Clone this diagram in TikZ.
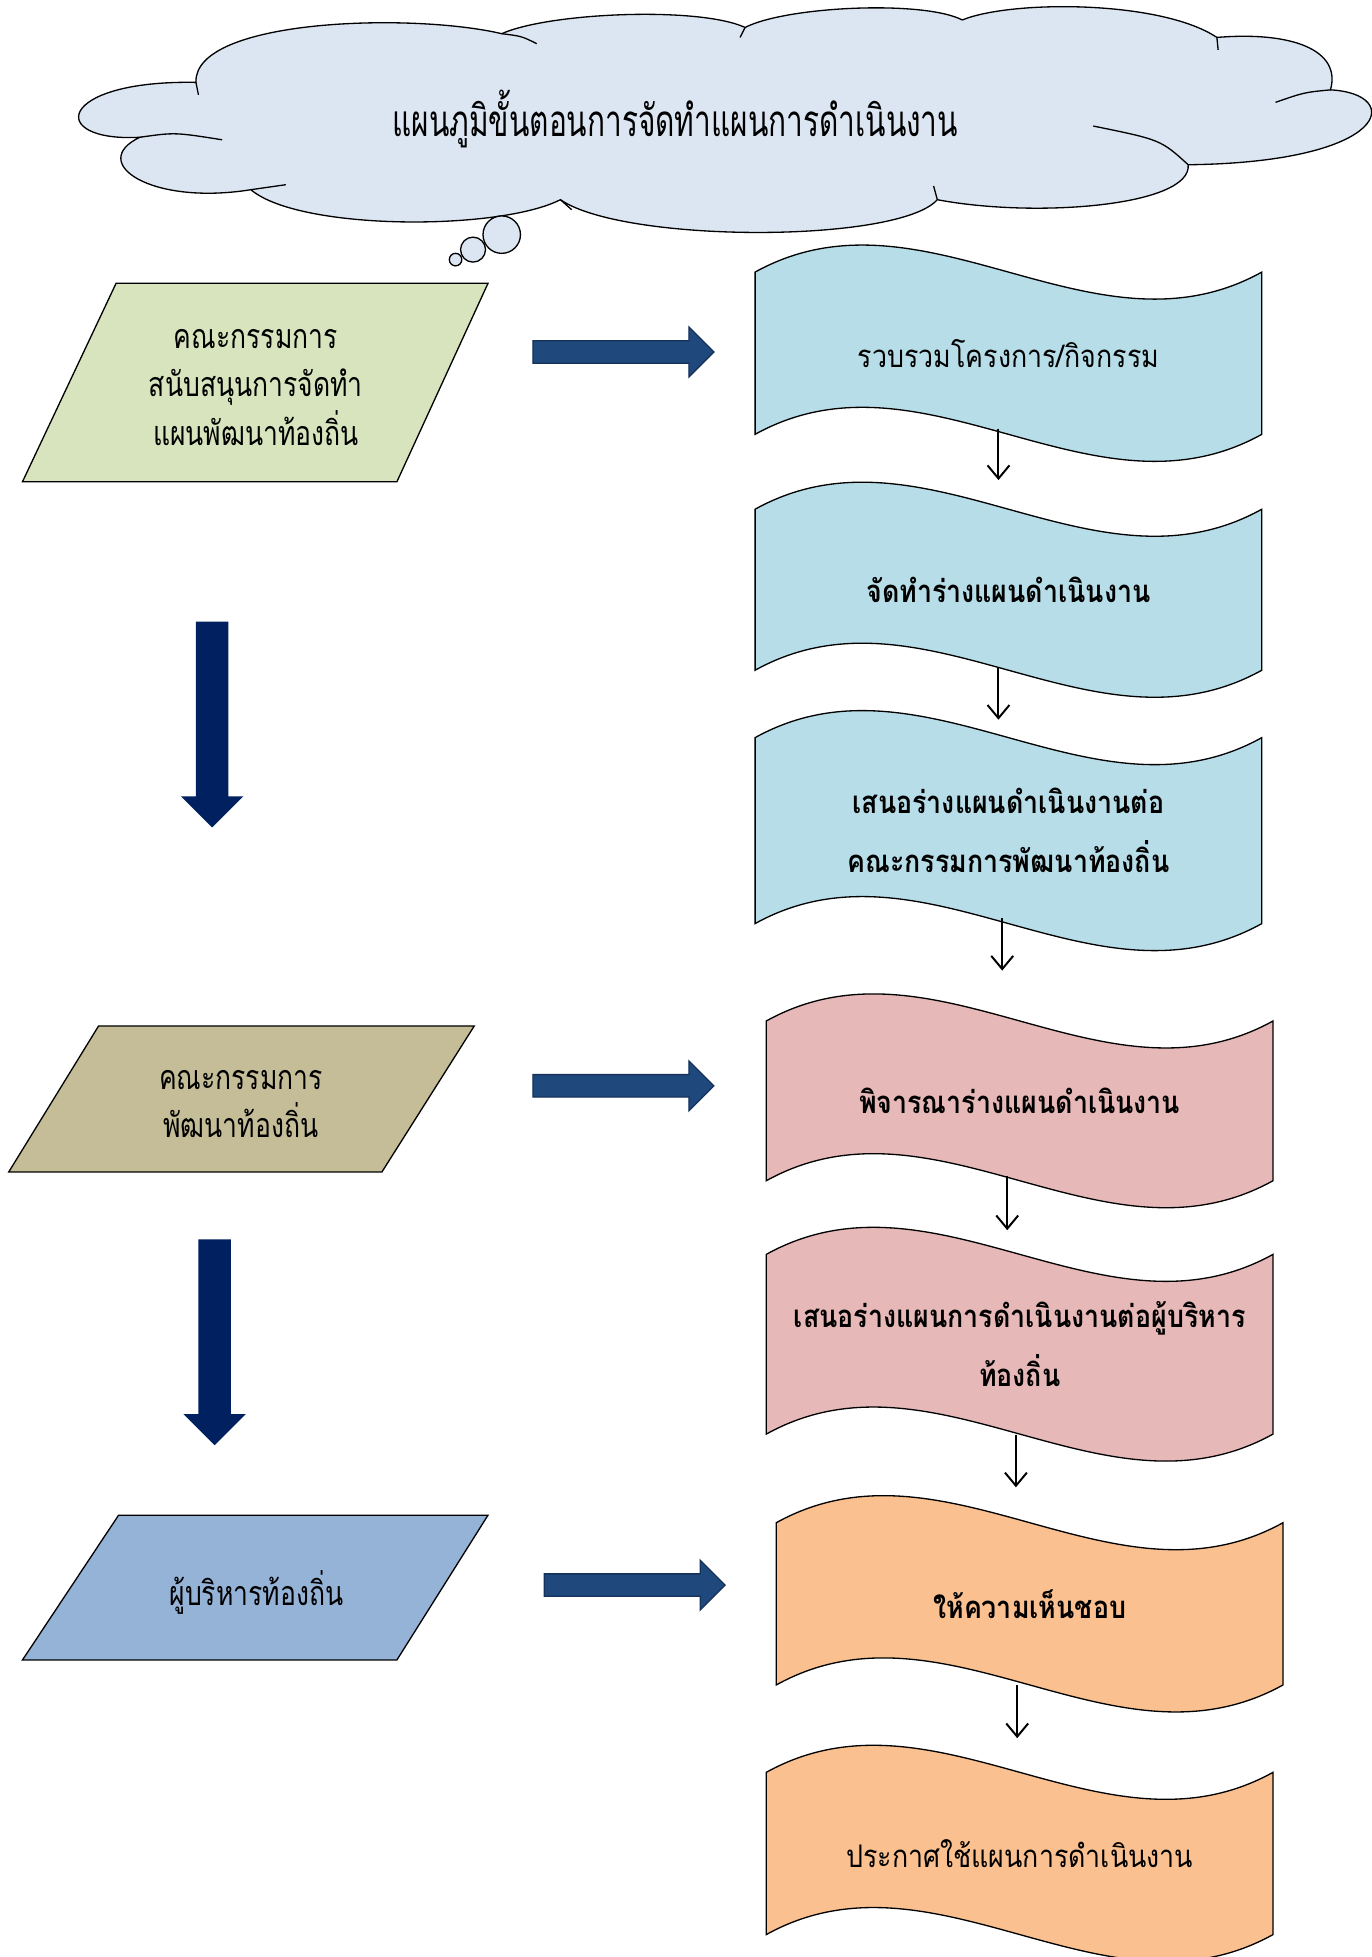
\documentclass[tikz,border=0pt]{standalone}
\usepackage{fontspec}
\newfontfamily\thaifont[Script=Thai,FakeStretch=0.86]{Loma}
\newfontfamily\thainarrow[Script=Thai,FakeStretch=0.78]{Loma}
\newfontfamily\thaititle[Script=Thai,FakeStretch=0.68]{Loma}
\usepackage{tikz}
\usetikzlibrary{math,calc,arrows.meta}
\definecolor{CloudFill}{RGB}{220,230,242}
\definecolor{SupportGreen}{RGB}{215,228,189}
\definecolor{CommitteeTan}{RGB}{196,189,151}
\definecolor{ExecBlue}{RGB}{149,179,215}
\definecolor{WaveBlue}{RGB}{183,221,232}
\definecolor{WavePink}{RGB}{230,185,184}
\definecolor{WaveOrange}{RGB}{250,192,144}
\definecolor{ArrowBlue}{RGB}{31,73,125}
\definecolor{ArrowEdge}{RGB}{22,50,90}
\definecolor{ArrowNavy}{RGB}{0,32,96}
\tikzset{%
  page units/.style={x={(0.02cm,0cm)},y={(0cm,-0.02cm)}},
  shape line/.style={draw=black, line width=0.6pt},
  title text/.style={font=\thaititle\fontsize{20}{24}\selectfont, inner sep=0pt},
  wave text/.style={align=center, inner sep=0pt},
  para text/.style={align=center, inner sep=0pt, font=\thainarrow\fontsize{15.5}{22}\selectfont},
  step arrow/.style={-{Straight Barb[length=6pt,width=10pt]}, line width=0.9pt},
  block arrow/.style={fill=ArrowBlue, draw=ArrowEdge, line width=0.6pt}
}

\begin{document}
\begin{tikzpicture}[page units]
    \useasboundingbox (0,0) rectangle (1099,1568);
    \tikzmath{
      \w=406;  % wave width
      \k=75;   % wave control offset
      \arrlen=145;
    }
    % title cloud
    \draw[shape line, fill=CloudFill]
      (112,110) .. controls (37,114) and (45,64) .. (157,66)
      .. controls (155,15) and (330,10) .. (402,27)
      .. controls (440,10) and (560,5) .. (597,22)
      .. controls (630,5) and (740,0) .. (771,16)
      .. controls (810,0) and (930,0) .. (975,30)
      .. controls (1035,25) and (1075,40) .. (1066,72)
      .. controls (1125,75) and (1115,130) .. (952,132)
      .. controls (955,165) and (830,175) .. (751,160)
      .. controls (720,195) and (500,195) .. (449,160)
      .. controls (400,185) and (240,185) .. (201,152)
      .. controls (120,165) and (70,130) .. (112,110) -- cycle;
    \draw[shape line] (112,110) .. controls (140,106) .. (178,112);
    \draw[shape line] (157,66) -- (159,76);
    \draw[shape line] (402,27) .. controls (418,29) .. (430,35);
    \draw[shape line] (597,22) -- (593,30);
    \draw[shape line] (975,30) -- (976,40);
    \draw[shape line] (1066,72) .. controls (1045,74) .. (1022,82);
    \draw[shape line] (952,132) .. controls (930,112) .. (876,101);
    \draw[shape line] (751,160) -- (748,149);
    \draw[shape line] (449,160) -- (458,168);
    \draw[shape line] (201,152) -- (229,148);
    \foreach \cx/\cy/\r in {402/188/15, 379/200/10, 365/208/5} {
      \draw[shape line, fill=CloudFill] (\cx,\cy) circle[radius=\r];
    }
    \node[title text] (title) at (541,95) {แผนภูมิขั้นตอนการจัดทำแผนการดำเนินงาน};

    % parallelograms on the left
    \foreach \tl/\tr/\bl/\br/\yt/\yb/\col/\nm/\txt in {
        93/391/18/318/227/386/SupportGreen/support/{คณะกรรมการ\\สนับสนุนการจัดทำ\\แผนพัฒนาท้องถิ่น},
        79/380/7/306/822/939/CommitteeTan/devcom/{คณะกรรมการ\\พัฒนาท้องถิ่น},
        95/391/18/318/1214/1330/ExecBlue/exec/{ผู้บริหารท้องถิ่น}} {
      \draw[shape line, fill=\col] (\tl,\yt) -- (\tr,\yt) -- (\br,\yb) -- (\bl,\yb) -- cycle;
      \node[para text] (\nm) at ({(\tl+\tr+\bl+\br)/4},{(\yt+\yb)/2+4}) {\txt};
    }

    % waves on the right
    \foreach \x/\yt/\yb/\col/\nm/\wt/\txt in {
        605/218/348/WaveBlue/collect/\mdseries/{รวบรวมโครงการ/กิจกรรม},
        605/408/537/WaveBlue/draft/\bfseries/{จัดทำร่างแผนดำเนินงาน},
        605/591/740/WaveBlue/propose/\bfseries/{เสนอร่างแผนดำเนินงานต่อ\\คณะกรรมการพัฒนาท้องถิ่น},
        614/818/946/WavePink/consider/\bfseries/{พิจารณาร่างแผนดำเนินงาน},
        614/1005/1149/WavePink/submit/\bfseries/{เสนอร่างแผนการดำเนินงานต่อผู้บริหาร\\ท้องถิ่น},
        622/1220/1350/WaveOrange/approve/\bfseries/{ให้ความเห็นชอบ},
        614/1420/1550/WaveOrange/announce/\mdseries/{ประกาศใช้แผนการดำเนินงาน}} {
      \draw[shape line, fill=\col] (\x,\yt)
        .. controls (\x+\w/3,\yt-\k) and (\x+2*\w/3,\yt+\k) .. (\x+\w,\yt) -- (\x+\w,\yb)
        .. controls (\x+2*\w/3,\yb+\k) and (\x+\w/3,\yb-\k) .. (\x,\yb) -- cycle;
      \node[wave text, font=\thaifont\fontsize{14.2}{27}\selectfont\wt,
            minimum width=\w*0.02cm, minimum height={(\yb-\yt)*0.02cm}]
        (\nm) at (\x+\w/2,{(\yt+\yb)/2}) {\txt};
    }

    \foreach \a/\b/\dx/\s/\e in {collect/draft/-8/5/23, draft/propose/-8/2/14,
        propose/consider/-5/5/40, consider/submit/-10/4/19,
        submit/approve/-3/0/28, approve/announce/-10/0/27} {
      \draw[step arrow] ($(\a.south)+(\dx,-\s)$) -- ($(\a.south |- \b.north)+(\dx,-\e)$);
    }

    % block arrows
    \foreach \x/\y in {427/282, 427/870, 436/1270} {
      \draw[block arrow] (\x,\y-9) -- (\x+\arrlen-20,\y-9) -- (\x+\arrlen-20,\y-20) -- (\x+\arrlen,\y)
        -- (\x+\arrlen-20,\y+20) -- (\x+\arrlen-20,\y+9) -- (\x,\y+9) -- cycle;
    }
    \foreach \x/\y in {170/498, 172/993} {
      \fill[ArrowNavy] (\x-13,\y) -- (\x+13,\y) -- (\x+13,\y+140) -- (\x+25,\y+140)
        -- (\x,\y+165) -- (\x-25,\y+140) -- (\x-13,\y+140) -- cycle;
    }
\end{tikzpicture}
\end{document}
